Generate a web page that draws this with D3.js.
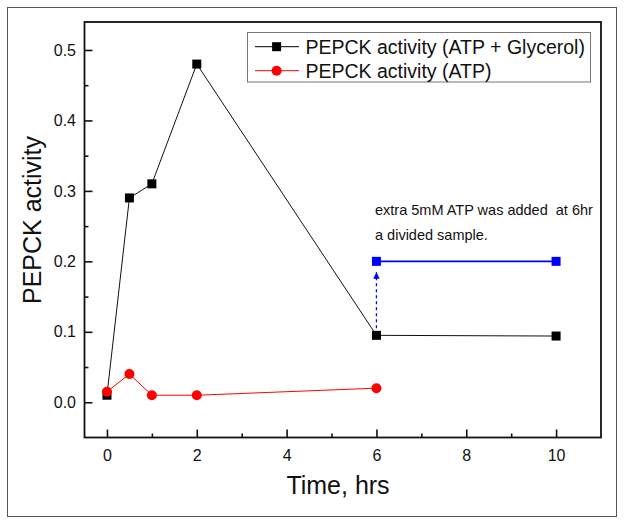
<!DOCTYPE html>
<html><head><meta charset="utf-8">
<script src="https://cdn.jsdelivr.net/npm/d3@7"></script>
<style>body{margin:0;background:#fff}svg{display:block}text{font-family:"Liberation Sans",Arial,sans-serif}</style>
</head><body>
<script>
const glycerolTime = [0, 0.5, 1, 2, 6, 10];
const glycerolActivity = [0.01, 0.29, 0.31, 0.48, 0.095, 0.094];
const atpTime = [0, 0.5, 1, 2, 6];
const atpActivity = [0.015, 0.04, 0.01, 0.01, 0.02];
const extraTime = [6, 10];
const extraActivity = [0.2, 0.2];
const xTicks = [0, 2, 4, 6, 8, 10];
const yTicks = [0.0, 0.1, 0.2, 0.3, 0.4, 0.5];
const seriesNames = ["PEPCK activity (ATP + Glycerol)", "PEPCK activity (ATP)"];
const noteLines = ["extra 5mM ATP was added  at 6hr", "a divided sample."];

const W = 624, H = 524;
const svg = d3.select("body").append("svg").attr("width", W).attr("height", H);
const L = 84.5, R = 601, T = 22, B = 437.5;
const x = d3.scaleLinear().domain([-0.5, 11]).range([L, R]);
const y = d3.scaleLinear().domain([-0.05, 0.5397]).range([B, T]);

// outer frame
svg.append("rect").attr("x", 7.5).attr("y", 7.5).attr("width", 609).attr("height", 509)
  .attr("fill", "none").attr("stroke", "#555").attr("stroke-width", 1);

// defs arrow
svg.append("defs").append("marker").attr("id", "arr").attr("viewBox", "0 0 10 10")
  .attr("refX", 10).attr("refY", 5).attr("markerWidth", 5).attr("markerHeight", 5)
  .attr("orient", "auto").append("path").attr("d", "M0,0L10,5L0,10Z").attr("fill", "#0000ff");

// axes
const xAxis = d3.axisBottom(x).tickValues(xTicks).tickSizeInner(-8).tickSizeOuter(0).tickPadding(12).tickFormat(d3.format("d"));
const xMinor = d3.axisBottom(x).tickValues([1,3,5,7,9]).tickSizeInner(-4).tickSizeOuter(0).tickFormat("");
const yAxis = d3.axisLeft(y).tickValues(yTicks).tickSizeInner(-8).tickSizeOuter(0).tickPadding(8.5).tickFormat(d3.format(".1f"));
const yMinor = d3.axisLeft(y).tickValues([0.05,0.15,0.25,0.35,0.45]).tickSizeInner(-4).tickSizeOuter(0).tickFormat("");

function styleAxis(g){
  g.select(".domain").remove();
  g.selectAll("line").attr("stroke", "#111").attr("stroke-width", 1.6);
  g.selectAll("text").attr("fill", "#111").style("font-size", "16px").style("font-family", '"Liberation Sans",Arial,sans-serif');
}
svg.append("g").attr("transform", `translate(0,${B})`).call(xAxis).call(styleAxis);
svg.append("g").attr("transform", `translate(0,${B})`).call(xMinor).call(styleAxis);
svg.append("g").attr("transform", `translate(${L},0)`).call(yAxis).call(styleAxis);
svg.append("g").attr("transform", `translate(${L},0)`).call(yMinor).call(styleAxis);

// plot frame
svg.append("rect").attr("x", L).attr("y", T).attr("width", R - L).attr("height", B - T)
  .attr("fill", "none").attr("stroke", "#111").attr("stroke-width", 1.8);

// axis titles
svg.append("text").attr("x", 338).attr("y", 494).attr("text-anchor", "middle")
  .style("font-size", "25px").attr("fill", "#111").text("Time, hrs");
svg.append("text").attr("transform", "translate(41,220) rotate(-90)").attr("text-anchor", "middle")
  .style("font-size", "25px").attr("fill", "#111").text("PEPCK activity");

const line = d3.line().x(d => x(d[0])).y(d => y(d[1]));
const gData = glycerolTime.map((t, i) => [t, glycerolActivity[i]]);
const aData = atpTime.map((t, i) => [t, atpActivity[i]]);
const eData = extraTime.map((t, i) => [t, extraActivity[i]]);

// dashed arrow
svg.append("line").attr("x1", x(6)).attr("x2", x(6)).attr("y1", y(glycerolActivity[4]) - 7).attr("y2", y(extraActivity[0]) + 11)
  .attr("stroke", "#0000ff").attr("stroke-width", 1.3).attr("stroke-dasharray", "3,3").attr("marker-end", "url(#arr)");

svg.append("path").datum(gData).attr("d", line).attr("fill", "none").attr("stroke", "#111").attr("stroke-width", 1);
svg.append("path").datum(eData).attr("d", line).attr("fill", "none").attr("stroke", "#0000ff").attr("stroke-width", 1.6);
svg.append("path").datum(aData).attr("d", line).attr("fill", "none").attr("stroke", "#ff0000").attr("stroke-width", 1);

const sq = 9;
svg.selectAll(".gs").data(gData).join("rect").attr("x", d => x(d[0]) - sq/2).attr("y", d => y(d[1]) - sq/2)
  .attr("width", sq).attr("height", sq).attr("fill", "#000");
svg.selectAll(".es").data(eData).join("rect").attr("x", d => x(d[0]) - sq/2).attr("y", d => y(d[1]) - sq/2)
  .attr("width", sq).attr("height", sq).attr("fill", "#0000ff");
svg.selectAll(".ac").data(aData).join("circle").attr("cx", d => x(d[0])).attr("cy", d => y(d[1]))
  .attr("r", 5).attr("fill", "#ff0000");

// annotation
noteLines.forEach((t, i) => {
  svg.append("text").attr("x", 375).attr("y", 215 + i * 25).attr("xml:space", "preserve")
    .style("white-space", "pre").style("font-size", "14.5px").attr("fill", "#111").text(t);
});

// legend
const lg = svg.append("g");
lg.append("rect").attr("x", 247.5).attr("y", 32.5).attr("width", 343).attr("height", 49.5)
  .attr("fill", "#fff").attr("stroke", "#777").attr("stroke-width", 1);
const colors = ["#000", "#ff0000"];
seriesNames.forEach((n, i) => {
  const cy = 46.7 + i * 24;
  lg.append("line").attr("x1", 255).attr("x2", 299).attr("y1", cy).attr("y2", cy).attr("stroke", colors[i]).attr("stroke-width", 1);
  if (i === 0) lg.append("rect").attr("x", 276.6 - sq/2).attr("y", cy - sq/2).attr("width", sq).attr("height", sq).attr("fill", "#000");
  else lg.append("circle").attr("cx", 276.6).attr("cy", cy).attr("r", 5).attr("fill", "#ff0000");
  lg.append("text").attr("x", 305.5).attr("y", cy).attr("dy", "0.36em").style("font-size", "19.5px").attr("fill", "#111").text(n);
});
</script>
</body></html>
